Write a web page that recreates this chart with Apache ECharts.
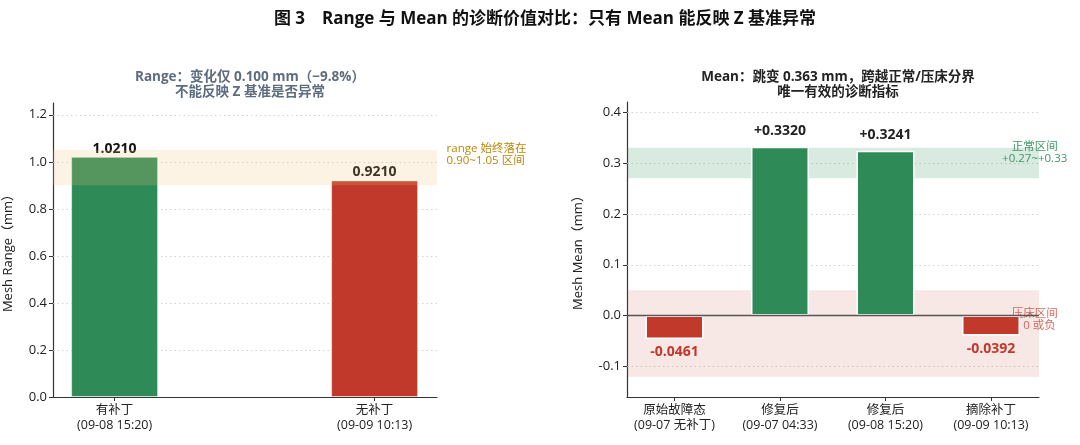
<!DOCTYPE html>
<html>
<head>
<meta charset="utf-8">
<script src="https://cdn.jsdelivr.net/npm/echarts@6/dist/echarts.min.js"></script>
<style>html,body{margin:0;padding:0;background:#fff}#c{width:1080px;height:445px}</style>
</head>
<body>
<div id="c"></div>
<script>
// ---- data ----
const rangeCats = ['有补丁\n(09-08 15:20)', '无补丁\n(09-09 10:13)'];
const rangeVals = [1.0210, 0.9210];
const rangeTicks = [0, 0.2, 0.4, 0.6, 0.8, 1.0, 1.2];
const rangeBand = [0.90, 1.05];

const meanCats = ['原始故障态\n(09-07 无补丁)', '修复后\n(09-07 04:33)', '修复后\n(09-08 15:20)', '摘除补丁\n(09-09 10:13)'];
const meanVals = [-0.0461, 0.3320, 0.3241, -0.0392];
const meanTicks = [-0.1, 0.0, 0.1, 0.2, 0.3, 0.4];
const normalBand = [0.27, 0.33];
const pressBand = [-0.12, 0.05];

const GREEN = '#2e8b57', RED = '#c0392b';
const FONT = '"Open Sans", "Noto Sans CJK SC", sans-serif';

const chart = echarts.init(document.getElementById('c'));

function gridLines(ticks, skipZero) {
  return ticks.filter(v => !(skipZero && v === 0)).map(v => ({ yAxis: v }));
}

const option = {
  backgroundColor: '#fff',
  textStyle: { fontFamily: FONT },
  animation: false,
  title: [
    { text: '图 3　Range 与 Mean 的诊断价值对比：只有 Mean 能反映 Z 基准异常', left: 540, top: 6, textAlign: 'center',
      textStyle: { fontSize: 17, fontWeight: 'bold', color: '#111', fontFamily: FONT } },
    { text: 'Range：变化仅 0.100 mm（−9.8%）\n不能反映 Z 基准是否异常', left: 245, top: 65, textAlign: 'center',
      textStyle: { fontSize: 13.5, fontWeight: 'bold', color: '#5d6d7e', lineHeight: 15, fontFamily: FONT } },
    { text: 'Mean：跳变 0.363 mm，跨越正常/压床分界\n唯一有效的诊断指标', left: 833, top: 65, textAlign: 'center',
      textStyle: { fontSize: 13.5, fontWeight: 'bold', color: '#222', lineHeight: 15, fontFamily: FONT } }
  ],
  grid: [
    { left: 53, right: 643, top: 103, bottom: 48 },
    { left: 627, right: 41, top: 102, bottom: 48 }
  ],
  xAxis: [
    { type: 'value', gridIndex: 0, min: -0.237, max: 1.24,
      axisLine: { onZero: false, lineStyle: { color: '#333', width: 1.2 } },
      axisTick: { customValues: [0, 1], length: 4, lineStyle: { color: '#333' } },
      axisLabel: { customValues: [0, 1], formatter: v => rangeCats[Math.round(v)], color: '#222', fontSize: 12.5, lineHeight: 15, margin: 6 },
      splitLine: { show: false } },
    { type: 'value', gridIndex: 1, min: -0.45, max: 3.455,
      axisLine: { onZero: false, lineStyle: { color: '#333', width: 1.2 } },
      axisTick: { customValues: [0, 1, 2, 3], length: 4, lineStyle: { color: '#333' } },
      axisLabel: { customValues: [0, 1, 2, 3], formatter: v => meanCats[Math.round(v)], color: '#222', fontSize: 12.5, lineHeight: 15, margin: 6 },
      splitLine: { show: false } }
  ],
  yAxis: [
    { type: 'value', gridIndex: 0, min: 0, max: 1.25,
      name: 'Mesh Range（mm）', nameLocation: 'middle', nameGap: 38, nameRotate: 90,
      nameTextStyle: { fontSize: 13, color: '#222' },
      axisLine: { show: true, onZero: false, lineStyle: { color: '#333', width: 1.2 } },
      axisTick: { show: true, customValues: rangeTicks, length: 4, lineStyle: { color: '#333' } },
      axisLabel: { customValues: rangeTicks, formatter: v => v.toFixed(1), color: '#222', fontSize: 13, margin: 6 },
      splitLine: { show: false } },
    { type: 'value', gridIndex: 1, min: -0.16, max: 0.42,
      name: 'Mesh Mean（mm）', nameLocation: 'middle', nameGap: 42, nameRotate: 90,
      nameTextStyle: { fontSize: 13, color: '#222' },
      axisLine: { show: true, onZero: false, lineStyle: { color: '#333', width: 1.2 } },
      axisTick: { show: true, customValues: meanTicks, length: 4, lineStyle: { color: '#333' } },
      axisLabel: { customValues: meanTicks, formatter: v => v.toFixed(1), color: '#222', fontSize: 13, margin: 6 },
      splitLine: { show: false } }
  ],
  series: [
    // left grid lines
    { type: 'line', xAxisIndex: 0, yAxisIndex: 0, data: [], z: 0, silent: true,
      markLine: { z: 0.5, silent: true, symbol: 'none', label: { show: false },
        lineStyle: { color: '#c8c8c8', type: [1.5, 3], width: 0.8 }, data: gridLines(rangeTicks, true) } },
    // left bars
    { type: 'bar', xAxisIndex: 0, yAxisIndex: 0, barWidth: 87, z: 2,
      data: rangeVals.map((v, i) => ({ value: [i, v], itemStyle: { color: i === 0 ? GREEN : RED } })),
      itemStyle: { borderColor: 'rgba(255,255,255,0.5)', borderWidth: 1 },
      label: { show: true, position: 'top', distance: 1, formatter: p => p.value[1].toFixed(4),
        fontSize: 14, fontWeight: 'bold', color: '#111' } },
    // left band (drawn over bars)
    { type: 'line', xAxisIndex: 0, yAxisIndex: 0, data: [], z: 3, silent: true,
      markArea: { z: 3, silent: true, itemStyle: { color: 'rgba(240,195,125,0.2)' },
        data: [[{ yAxis: rangeBand[0] }, { yAxis: rangeBand[1] }]] } },

    // right grid lines + bands
    { type: 'line', xAxisIndex: 1, yAxisIndex: 1, data: [], z: 0, silent: true,
      markLine: { z: 0.5, silent: true, symbol: 'none', label: { show: false },
        lineStyle: { color: '#c8c8c8', type: [1.5, 3], width: 0.8 }, data: gridLines(meanTicks, true) },
      markArea: { z: 1, silent: true,
        data: [
          [{ yAxis: normalBand[0], itemStyle: { color: 'rgba(46,139,87,0.18)' } }, { yAxis: normalBand[1] }],
          [{ yAxis: pressBand[0], itemStyle: { color: 'rgba(192,57,43,0.12)' } }, { yAxis: pressBand[1] }]
        ] } },
    // right bars
    { type: 'bar', xAxisIndex: 1, yAxisIndex: 1, barWidth: 58, z: 2,
      data: meanVals.map((v, i) => ({
        value: [i, v],
        itemStyle: { color: v >= 0 ? GREEN : RED },
        label: v >= 0 ? { position: 'top', distance: 9, color: '#222' } : { position: 'bottom', distance: 6, color: RED }
      })),
      itemStyle: { borderColor: '#fff', borderWidth: 1.5 },
      label: { show: true, formatter: p => (p.value[1] >= 0 ? '+' : '') + p.value[1].toFixed(4),
        fontSize: 14, fontWeight: 'bold' } },
    // zero line
    { type: 'line', xAxisIndex: 1, yAxisIndex: 1, data: [], z: 4, silent: true,
      markLine: { z: 5, silent: true, symbol: 'none', label: { show: false },
        lineStyle: { color: '#555', type: 'solid', width: 1.3 }, data: [{ yAxis: 0 }] } }
  ]
};
chart.setOption(option);

// annotations positioned via the axes' own scales
const a1 = chart.convertToPixel({ xAxisIndex: 0, yAxisIndex: 0 }, [1.277, 1.03]);
const a2 = chart.convertToPixel({ xAxisIndex: 1, yAxisIndex: 1 }, [3.414, 0.32]);
const a3 = chart.convertToPixel({ xAxisIndex: 1, yAxisIndex: 1 }, [3.414, -0.008]);
chart.setOption({
  graphic: [
    { type: 'text', z: 1, x: a1[0], y: a1[1], style: { text: 'range 始终落在\n0.90~1.05 区间', fill: '#b8860b',
      font: '11.5px ' + FONT, align: 'left', verticalAlign: 'middle', lineHeight: 12.5 } },
    { type: 'text', z: 1, x: a2[0], y: a2[1], style: { text: '正常区间\n+0.27~+0.33', fill: 'rgba(46,139,87,0.9)',
      font: '11.5px ' + FONT, align: 'center', verticalAlign: 'middle', lineHeight: 12.5 } },
    { type: 'text', z: 1, x: a3[0], y: a3[1], style: { text: '压床区间\n≤ 0 或负', fill: 'rgba(192,57,43,0.75)',
      font: '11.5px ' + FONT, align: 'center', verticalAlign: 'middle', lineHeight: 12.5 } }
  ]
});
</script>
</body>
</html>
